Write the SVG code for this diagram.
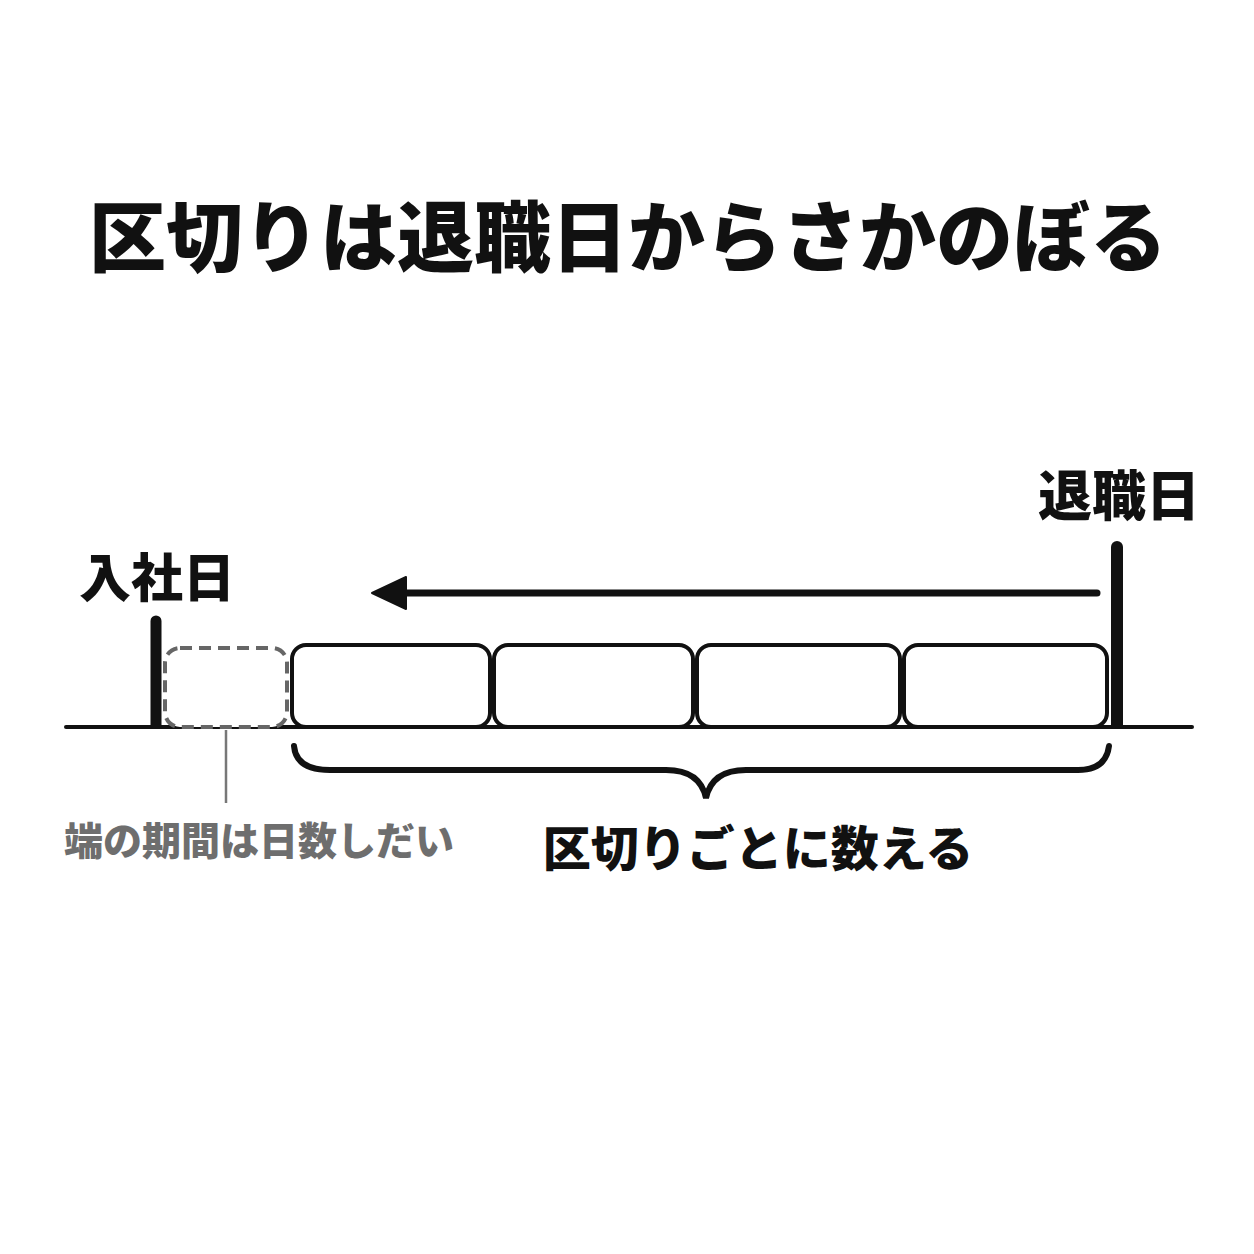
<svg xmlns="http://www.w3.org/2000/svg" width="1254" height="1254" viewBox="0 0 1254 1254">
<defs>
<style>
.t{font-family:"Noto Sans CJK JP","Noto Sans CJK SC",sans-serif;font-weight:900;fill:#111}
.g{font-family:"Noto Sans CJK JP","Noto Sans CJK SC",sans-serif;font-weight:900;fill:#6e6e6e}
.box{fill:#fff;stroke:#111;stroke-width:4}
.ln{stroke:#111;fill:none;stroke-linecap:round}
</style>
</defs>
<rect width="1254" height="1254" fill="#fff"/>
<g id="title"><text class="t" x="628" y="266" font-size="77" text-anchor="middle">区切りは退職日からさかのぼる</text></g>
<g id="ground"><line class="ln" x1="66" y1="727" x2="1192" y2="727" stroke-width="4"/></g>
<g id="start">
<path d="M150.5 727 V621 a5.5 5.5 0 0 1 11 0 V727 Z" fill="#111"/>
<text class="t" x="79" y="597" font-size="52">入社日</text>
</g>
<g id="end">
<path d="M1111 727 V547 a6 6 0 0 1 12 0 V727 Z" fill="#111"/>
<text class="t" x="1038" y="516" font-size="54">退職日</text>
</g>
<g id="partial">
<rect x="165" y="648" width="122" height="79" rx="15" fill="#fff" stroke="#666" stroke-width="4" stroke-dasharray="12 7"/>
<line x1="226" y1="730" x2="226" y2="803" stroke="#777" stroke-width="2.5"/>
<text class="g" x="64" y="855" font-size="39">端の期間は日数しだい</text>
</g>
<g id="segments">
<rect class="box" x="292" y="645" width="198" height="82" rx="14"/>
<rect class="box" x="494" y="645" width="199" height="82" rx="14"/>
<rect class="box" x="697" y="645" width="203" height="82" rx="14"/>
<rect class="box" x="904" y="645" width="203" height="82" rx="14"/>
</g>
<g id="connectors">
<line class="ln" x1="1097" y1="593" x2="400" y2="593" stroke-width="7"/>
<polygon points="372,593 406,577 406,609" fill="#111" stroke="#111" stroke-width="2" stroke-linejoin="round"/>
<path class="ln" d="M294 746 Q296 770 330 770 L666 770 Q700 770 706 798 Q712 770 746 770 L1078 770 Q1106 770 1109 746" stroke-width="6"/>
</g>
<g id="count"><text class="t" x="758" y="866" font-size="48" text-anchor="middle">区切りごとに数える</text></g>
</svg>
